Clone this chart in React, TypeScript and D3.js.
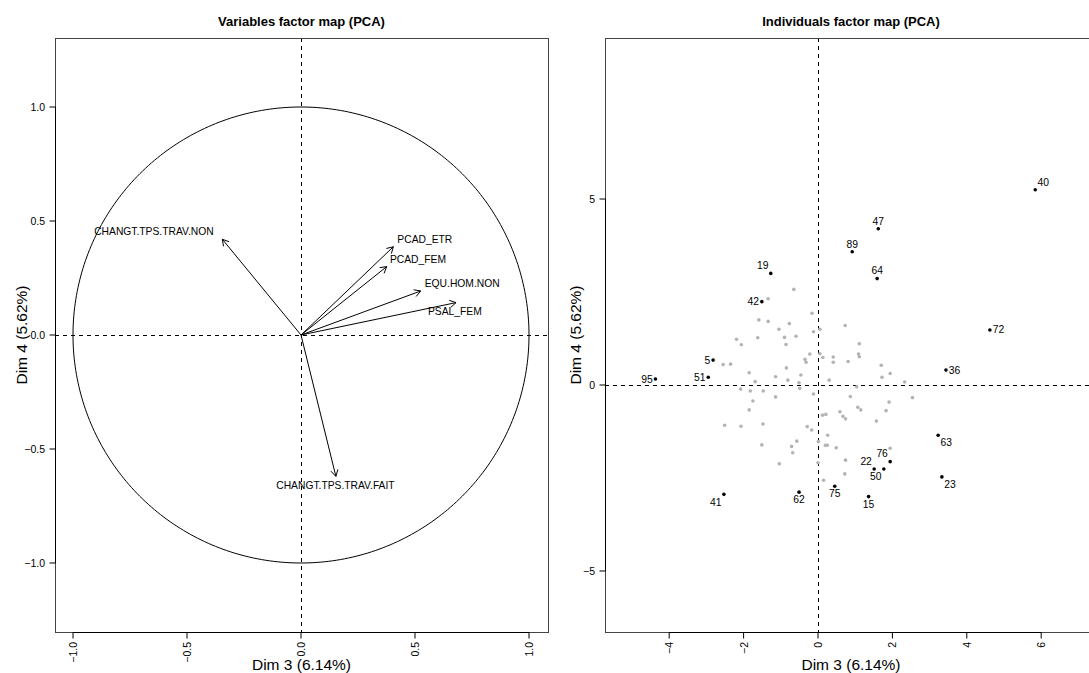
import React from 'react';
import * as d3 from 'd3';

// ---------- Variables factor map data ----------
const varNames = ['CHANGT.TPS.TRAV.NON', 'PCAD_ETR', 'PCAD_FEM', 'EQU.HOM.NON', 'PSAL_FEM', 'CHANGT.TPS.TRAV.FAIT'];
const varDim3 = [-0.345, 0.405, 0.376, 0.525, 0.68, 0.153];
const varDim4 = [0.42, 0.387, 0.3, 0.193, 0.142, -0.62];
const varLabelDim3 = [-0.645, 0.543, 0.513, 0.707, 0.675, 0.151];
const varLabelDim4 = [0.456, 0.42, 0.332, 0.227, 0.105, -0.662];
const varTicks = [-1, -0.5, 0, 0.5, 1];

// ---------- Individuals factor map data ----------
const indNames = ['40', '47', '89', '19', '64', '42', '72', '5', '51', '95', '36', '63', '76', '22', '50', '23', '41', '62', '75', '15'];
const indDim3 = [5.84, 1.62, 0.92, -1.27, 1.59, -1.51, 4.62, -2.82, -2.95, -4.37, 3.44, 3.23, 1.94, 1.51, 1.77, 3.33, -2.53, -0.51, 0.45, 1.36];
const indDim4 = [5.25, 4.2, 3.58, 3.0, 2.86, 2.24, 1.48, 0.67, 0.21, 0.16, 0.4, -1.35, -2.06, -2.26, -2.26, -2.47, -2.94, -2.88, -2.72, -3.0];
const indLabelPos = ['NE', 'N', 'N', 'NW', 'N', 'W', 'E', 'W', 'W', 'W', 'E', 'SE', 'NW', 'NW', 'SW', 'SE', 'SW', 'S', 'S', 'S'];

const otherDim3 = [
  -0.65, -1.34, -0.16, -1.59, -1.34, -0.77, 0.73, -1.05, 0.05, -0.12,
  -2.19, -1.62, -0.9, -0.59, 1.11, -2.06, -0.86, -0.22, 0.05, 0.13,
  0.41, 1.09, 1.11, -0.35, -0.32, 0.41, 0.81, -2.55, -2.35, 1.7,
  -0.85, -1.85, 1.94, -0.46, -1.14, 1.72, -0.81, 0.3, -1.69, -0.51,
  2.33, -0.49, 1.04, -2.08, -1.82, -1.47, -0.12, -1.14, 0.87, 2.54,
  -1.75, 1.91, -1.85, 1.07, 1.15, 1.83, 0.59, 0.67, 0.74, 0.12,
  0.21, 1.57, -2.51, -2.07, -1.48, -0.29, -0.17, 0.26, 0.01, 0.2,
  0.25, 0.49, 1.94, -1.51, -0.57, -0.71, -0.68, -1.04, 0.74, 0.0,
  0.72, 0.15,
];
const otherDim4 = [
  2.57, 2.32, 1.93, 1.75, 1.71, 1.65, 1.6, 1.5, 1.5, 1.43,
  1.23, 1.27, 1.28, 1.31, 1.11, 1.08, 1.09, 0.83, 0.84, 0.74,
  0.75, 0.83, 0.76, 0.69, 0.61, 0.61, 0.63, 0.55, 0.56, 0.53,
  0.46, 0.33, 0.31, 0.27, 0.22, 0.21, 0.13, 0.13, 0.09, 0.06,
  0.08, -0.09, -0.05, -0.11, -0.16, -0.16, -0.24, -0.32, -0.31, -0.34,
  -0.43, -0.46, -0.67, -0.6, -0.67, -0.69, -0.72, -0.84, -0.91, -0.81,
  -0.79, -0.97, -1.08, -1.11, -1.05, -1.12, -1.21, -1.35, -1.52, -1.62,
  -1.62, -1.69, -1.7, -1.61, -1.51, -1.65, -1.82, -2.12, -2.02, -2.09,
  -2.39, -2.56,
];
const indXTicks = [-4, -2, 0, 2, 4, 6];
const indYTicks = [-5, 0, 5];

// ---------- layout ----------
const W = 1089;
const H = 673;
const FONT = "'Liberation Sans', Arial, Helvetica, sans-serif";
const LBOX = { left: 55, right: 548, top: 38, bottom: 632 };
const RBOX = { left: 605, right: 1097, top: 38, bottom: 632 };
const TICK = 6;

const fmtVar = (v: number) => (v < 0 ? '\u2212' : '') + Math.abs(v).toFixed(1);
const fmtInd = (v: number) => (v < 0 ? '\u2212' : '') + Math.abs(v).toString();

function Arrow({ x1, y1, x2, y2 }: { x1: number; y1: number; x2: number; y2: number }) {
  const ang = Math.atan2(y2 - y1, x2 - x1);
  const len = 7.2;
  const a = Math.PI / 6;
  const h1x = x2 - len * Math.cos(ang - a);
  const h1y = y2 - len * Math.sin(ang - a);
  const h2x = x2 - len * Math.cos(ang + a);
  const h2y = y2 - len * Math.sin(ang + a);
  return (
    <g stroke="#000" strokeWidth={1} fill="none">
      <line x1={x1} y1={y1} x2={x2} y2={y2} />
      <path d={`M${h1x},${h1y}L${x2},${y2}L${h2x},${h2y}`} />
    </g>
  );
}

function Frame({ box, xTicks, yTicks, xs, ys, fmt, title, xLab, yLab, yLabX }: any) {
  const cx = (box.left + box.right) / 2;
  const cy = (box.top + box.bottom) / 2;
  return (
    <g fontFamily={FONT}>
      <rect x={box.left + 0.5} y={box.top + 0.5} width={box.right - box.left} height={box.bottom - box.top} fill="none" stroke="#444" strokeWidth={1} />
      {/* x axis */}
      <line x1={xs(xTicks[0])} x2={xs(xTicks[xTicks.length - 1])} y1={box.bottom + 0.5} y2={box.bottom + 0.5} stroke="#000" />
      {xTicks.map((t: number) => (
        <g key={'x' + t}>
          <line x1={xs(t)} x2={xs(t)} y1={box.bottom + 0.5} y2={box.bottom + 0.5 + TICK} stroke="#000" />
          <text transform={`translate(${xs(t)},${box.bottom + 10}) rotate(-90)`} textAnchor="end" dominantBaseline="central" fontSize={10.5} fill="#000">
            {fmt(t)}
          </text>
        </g>
      ))}
      {/* y axis */}
      <line y1={ys(yTicks[0])} y2={ys(yTicks[yTicks.length - 1])} x1={box.left + 0.5} x2={box.left + 0.5} stroke="#000" />
      {yTicks.map((t: number) => (
        <g key={'y' + t}>
          <line y1={ys(t)} y2={ys(t)} x1={box.left + 0.5} x2={box.left + 0.5 - TICK} stroke="#000" />
          <text x={box.left - 10} y={ys(t)} textAnchor="end" dominantBaseline="central" fontSize={10.5} fill="#000">
            {fmt(t)}
          </text>
        </g>
      ))}
      <text x={cx} y={21} textAnchor="middle" dominantBaseline="central" fontSize={13} fontWeight="bold" fill="#000">
        {title}
      </text>
      <text x={cx} y={664} textAnchor="middle" dominantBaseline="central" fontSize={15.5} fill="#000">
        {xLab}
      </text>
      <text transform={`translate(${yLabX},${cy}) rotate(-90)`} textAnchor="middle" dominantBaseline="central" fontSize={15.5} fill="#000">
        {yLab}
      </text>
    </g>
  );
}

export default function App() {
  // Variables panel scales (equal aspect)
  const xV = d3.scaleLinear().domain([-1, 1]).range([73, 529]);
  const yV = d3.scaleLinear().domain([-1, 1]).range([563, 107]);
  // Individuals panel scales (equal aspect)
  const xI = d3.scaleLinear().domain([-4, 6]).range([669.2, 1041.2]);
  const yI = d3.scaleLinear().domain([-5, 5]).range([571, 199]);

  const circle = d3.range(0, 361).map((d) => [Math.cos((d * Math.PI) / 180), Math.sin((d * Math.PI) / 180)]);
  const circlePath = d3.line<number[]>().x((d) => xV(d[0])).y((d) => yV(d[1]))(circle) || '';

  const labelOffset = (pos: string) => {
    const dx = 2.3;
    const dy = 7.7;
    switch (pos) {
      case 'N': return { dx: 0, dy: -dy, anchor: 'middle' };
      case 'S': return { dx: 0, dy: dy, anchor: 'middle' };
      case 'W': return { dx: -2.8, dy: 0, anchor: 'end' };
      case 'E': return { dx: 2.8, dy: 0, anchor: 'start' };
      case 'NE': return { dx: dx, dy: -dy, anchor: 'start' };
      case 'NW': return { dx: -dx, dy: -dy, anchor: 'end' };
      case 'SE': return { dx: dx, dy: dy, anchor: 'start' };
      default: return { dx: -dx, dy: dy, anchor: 'end' };
    }
  };

  return (
    <svg width={W} height={H} style={{ position: 'absolute', left: 0, top: 0, background: '#fff' }}>
      <rect x={0} y={0} width={W} height={H} fill="#fff" />
      <defs>
        <clipPath id="clipL">
          <rect x={LBOX.left} y={LBOX.top} width={LBOX.right - LBOX.left} height={LBOX.bottom - LBOX.top} />
        </clipPath>
        <clipPath id="clipR">
          <rect x={RBOX.left} y={RBOX.top} width={RBOX.right - RBOX.left} height={RBOX.bottom - RBOX.top} />
        </clipPath>
      </defs>

      {/* ---------------- Left panel ---------------- */}
      <g clipPath="url(#clipL)">
        <line x1={LBOX.left} x2={LBOX.right} y1={Math.round(yV(0)) + 0.5} y2={Math.round(yV(0)) + 0.5} stroke="#000" strokeDasharray="4,4" />
        <line y1={LBOX.top} y2={LBOX.bottom} x1={Math.round(xV(0)) + 0.5} x2={Math.round(xV(0)) + 0.5} stroke="#000" strokeDasharray="4,4" />
        <path d={circlePath} fill="none" stroke="#000" strokeWidth={1} />
        {varNames.map((n, i) => (
          <Arrow key={n} x1={xV(0)} y1={yV(0)} x2={xV(varDim3[i])} y2={yV(varDim4[i])} />
        ))}
        {varNames.map((n, i) => (
          <text key={'l' + n} x={xV(varLabelDim3[i])} y={yV(varLabelDim4[i])} textAnchor="middle" dominantBaseline="central" fontFamily={FONT} fontSize={10.3} fill="#000">
            {n}
          </text>
        ))}
      </g>
      <Frame box={LBOX} xTicks={varTicks} yTicks={varTicks} xs={xV} ys={yV} fmt={fmtVar}
        title="Variables factor map (PCA)" xLab="Dim 3 (6.14%)" yLab="Dim 4 (5.62%)" yLabX={21} />

      {/* ---------------- Right panel ---------------- */}
      <g clipPath="url(#clipR)">
        <line x1={RBOX.left} x2={RBOX.right} y1={Math.round(yI(0)) + 0.5} y2={Math.round(yI(0)) + 0.5} stroke="#000" strokeDasharray="4,4" />
        <line y1={RBOX.top} y2={RBOX.bottom} x1={Math.round(xI(0)) + 0.5} x2={Math.round(xI(0)) + 0.5} stroke="#000" strokeDasharray="4,4" />
        {otherDim3.map((v, i) => (
          <circle key={'o' + i} cx={xI(v)} cy={yI(otherDim4[i])} r={1.8} fill="#b3b3b3" />
        ))}
        {indNames.map((n, i) => {
          const px = xI(indDim3[i]);
          const py = yI(indDim4[i]);
          const o = labelOffset(indLabelPos[i]);
          return (
            <g key={'i' + n}>
              <circle cx={px} cy={py} r={1.8} fill="#000" />
              <text x={px + o.dx} y={py + o.dy} textAnchor={o.anchor as any} dominantBaseline="central" fontFamily={FONT} fontSize={10.3} fill="#000">
                {n}
              </text>
            </g>
          );
        })}
      </g>
      <Frame box={RBOX} xTicks={indXTicks} yTicks={indYTicks} xs={xI} ys={yI} fmt={fmtInd}
        title="Individuals factor map (PCA)" xLab="Dim 3 (6.14%)" yLab="Dim 4 (5.62%)" yLabX={575} />
    </svg>
  );
}
